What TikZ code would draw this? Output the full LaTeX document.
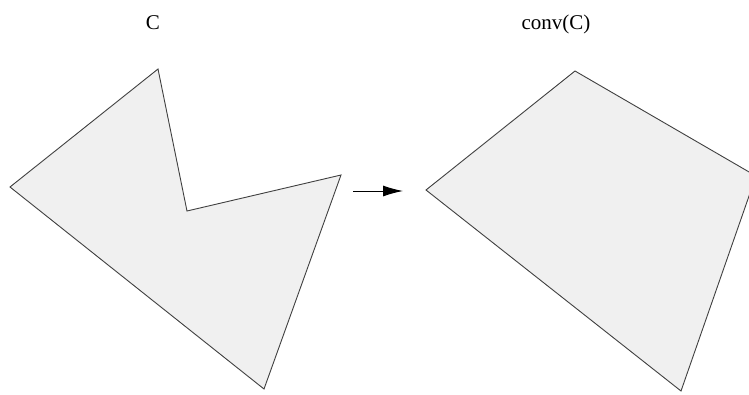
\documentclass[tikz,border=0pt]{standalone}
\usepackage{fontspec}
\setmainfont{Liberation Serif}
\tikzset{
  poly/.style={draw=black!75, fill=black!6, line width=0.9pt, line join=miter},
  lbl/.style={font=\fontsize{21}{24}\selectfont, inner sep=0pt},
  arr/.style={-{Latex[length=20pt,width=11pt]}, line width=1pt}
}
\usetikzlibrary{arrows.meta}
\begin{document}
\begin{tikzpicture}[x=1pt,y=-1pt]
\useasboundingbox (0,0) rectangle (749,394);
\clip (0,0) rectangle (749,394);
\coordinate (a1) at (10,187);
\coordinate (a2) at (158,69);
\coordinate (a3) at (187,211);
\coordinate (a4) at (341,175);
\coordinate (a5) at (264,389);
\draw[poly] (a1) -- (a2) -- (a3) -- (a4) -- (a5) -- cycle;
\coordinate (b1) at (426,190);
\coordinate (b2) at (575,71);
\coordinate (b3) at (756,176);
\coordinate (b4) at (681,391);
\draw[poly] (b1) -- (b2) -- (b3) -- (b4) -- cycle;
\coordinate (s) at (353,191);
\coordinate (e) at (403,191);
\draw[arr] (s) -- (e);
\node[lbl, anchor=base] (c) at (153,29) {C};
\node[lbl, anchor=base] (cc) at (556,29) {conv(C)};
\end{tikzpicture}
\end{document}
